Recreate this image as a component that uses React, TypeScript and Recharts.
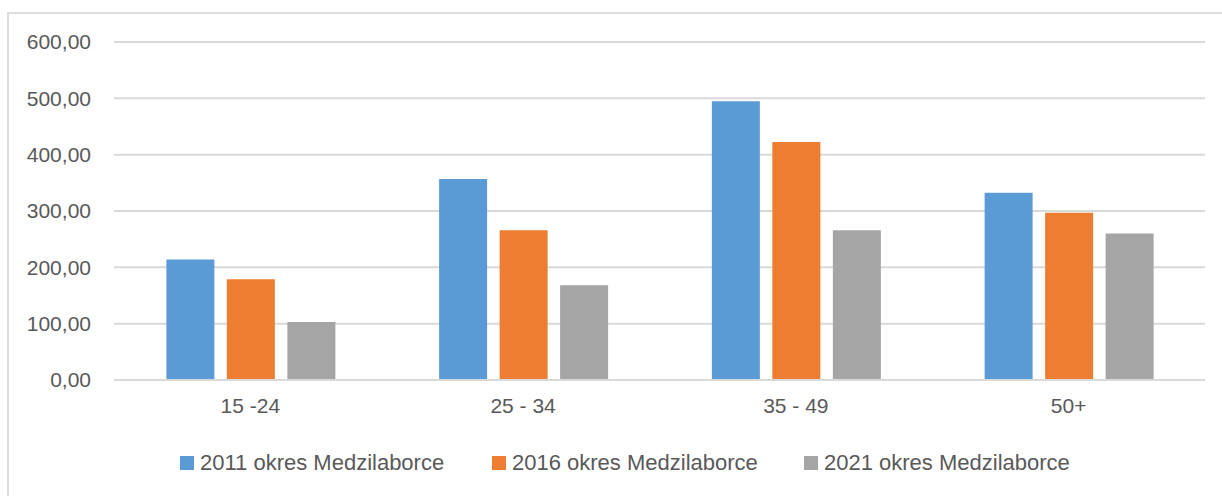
import React from "react";
import { BarChart, Bar, XAxis, YAxis, CartesianGrid, Legend } from "recharts";

const ageGroups = ["15 -24", "25 - 34", "35 - 49", "50+"];
const values2011 = [214, 357, 495, 332.5];
const values2016 = [179, 266, 422.5, 297];
const values2021 = [103, 168, 266, 260];
const yTicks = [0, 100, 200, 300, 400, 500, 600];

const seriesNames = [
  "2011 okres Medzilaborce",
  "2016 okres Medzilaborce",
  "2021 okres Medzilaborce",
];
const colors = ["#5B9BD5", "#ED7D31", "#A5A5A5"];

const font = "'Liberation Sans', Arial, sans-serif";
const textColor = "#595959";

const data = ageGroups.map((group, i) => ({
  group,
  [seriesNames[0]]: values2011[i],
  [seriesNames[1]]: values2016[i],
  [seriesNames[2]]: values2021[i],
}));

const formatTick = (v: number) => v.toFixed(2).replace(".", ",");

function LegendContent() {
  return (
    <div
      style={{
        display: "flex",
        paddingLeft: 180,
        fontFamily: font,
        fontSize: 22,
        color: textColor,
        lineHeight: "24px",
      }}
    >
      {seriesNames.map((name, i) => (
        <div
          key={name}
          style={{ width: 312, display: "flex", alignItems: "center" }}
        >
          <span
            style={{
              width: 14,
              height: 14,
              background: colors[i],
              marginRight: 6,
              display: "inline-block",
            }}
          />
          <span>{name}</span>
        </div>
      ))}
    </div>
  );
}

export default function App() {
  return (
    <div
      style={{
        position: "relative",
        width: 1222,
        height: 496,
        background: "#fff",
        overflow: "hidden",
      }}
    >
      <style>{"html,body{margin:0;overflow:hidden;}"}</style>
      <div
        style={{
          position: "absolute",
          left: 7,
          top: 12,
          width: 1240,
          height: 500,
          borderTop: "2px solid #dedede",
          borderLeft: "2px solid #dedede",
        }}
      />
      <BarChart
        width={1222}
        height={496}
        data={data}
        margin={{ top: 42, right: 17, left: 0, bottom: 21 }}
        barCategoryGap="19.2%"
        barGap={12.5}
        style={{ position: "absolute", left: 0, top: 0 }}
      >
        <CartesianGrid vertical={false} stroke="#d9d9d9" strokeWidth={2} />
        <XAxis
          dataKey="group"
          height={71}
          tickLine={false}
          tickSize={0}
          tickMargin={18}
          axisLine={{ stroke: "#d9d9d9", strokeWidth: 2 }}
          tick={{ fill: textColor, fontSize: 21, fontFamily: font }}
        />
        <YAxis
          width={114}
          domain={[0, 600]}
          ticks={yTicks}
          tickFormatter={formatTick}
          axisLine={false}
          tickLine={false}
          tickSize={0}
          tickMargin={23}
          tick={{ fill: textColor, fontSize: 21, fontFamily: font }}
        />
        <Legend
          verticalAlign="bottom"
          height={24}
          content={() => <LegendContent />}
        />
        {seriesNames.map((name, i) => (
          <Bar
            key={name}
            dataKey={name}
            fill={colors[i]}
            isAnimationActive={false}
          />
        ))}
      </BarChart>
    </div>
  );
}
